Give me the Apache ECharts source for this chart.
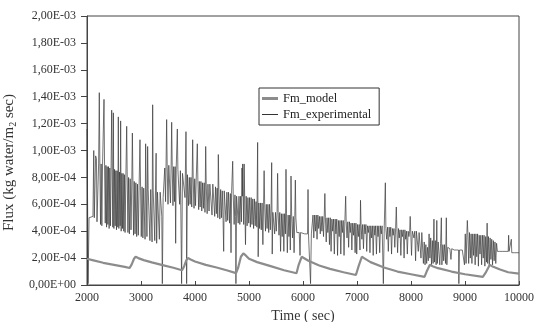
<!DOCTYPE html>
<html>
<head>
<meta charset="utf-8">
<script src="https://cdn.jsdelivr.net/npm/echarts@6/dist/echarts.min.js"></script>
<style>
html,body{margin:0;padding:0;background:#fff;}
#chart{width:534px;height:322px;}
</style>
</head>
<body>
<div id="chart"></div>
<script>
// Flux values are in units of 1e-4 kg water/(m2 sec)
var xTicks = [2000, 3000, 4000, 5000, 6000, 7000, 8000, 9000, 10000];
var yTicks = [0, 2, 4, 6, 8, 10, 12, 14, 16, 18, 20];

var modelPoints = [
[2000,1.95],[2100,1.85],[2300,1.65],[2500,1.5],[2700,1.35],[2790,1.26],[2830,1.55],[2870,1.95],[2900,2.1],[2950,2.0],
[3050,1.85],[3200,1.68],[3400,1.48],[3600,1.28],[3760,1.1],[3800,1.4],[3840,1.85],[3870,2.0],[3920,1.9],[4000,1.75],
[4200,1.5],[4400,1.3],[4600,1.08],[4760,0.88],[4800,1.3],[4850,2.1],[4895,2.35],[4940,2.2],[5000,1.95],[5150,1.7],
[5400,1.4],[5650,1.1],[5880,0.87],[5920,1.5],[5975,2.1],[6010,2.05],[6100,1.8],[6300,1.45],[6500,1.2],[6750,0.95],
[6980,0.74],[7030,1.4],[7090,2.1],[7130,2.0],[7250,1.7],[7500,1.3],[7750,1.0],[8000,0.8],[8250,0.6],[8290,1.0],
[8350,1.5],[8400,1.4],[8500,1.25],[8750,1.0],[9000,0.8],[9330,0.6],[9380,0.9],[9460,1.5],[9500,1.4],[9650,1.15],
[9800,0.95],[10000,0.85]
];

var experimentalPoints = [
[2000,11.6],[2012,5.5],[2020,0.1],[2030,0.1],[2038,5.0],[2110,5.1],[2125,10.0],[2135,5.0],[2160,9.6],[2175,9.4],[2185,4.7],[2200,4.6],
[2215,9.0],[2228,14.3],[2238,9.0],[2250,4.5],[2262,9.0],[2275,4.4],[2288,9.0],[2300,9.0],[2315,13.8],[2325,8.9],[2338,4.6],[2350,8.9],
[2362,4.3],[2374,8.8],[2386,4.5],[2398,8.8],[2410,4.2],[2422,8.7],[2434,4.4],[2446,8.7],[2457,13.0],[2467,8.6],[2478,4.3],[2488,12.8],
[2498,4.2],[2510,8.6],[2522,4.4],[2534,8.5],[2546,4.1],[2558,8.5],[2570,4.3],[2580,12.5],[2590,4.2],[2602,8.4],[2614,4.4],[2623,12.2],
[2633,4.0],[2645,8.3],[2657,4.2],[2669,8.3],[2681,4.0],[2693,8.2],
[2705,3.9],[2720,8.1],[2735,11.8],[2745,8.0],[2758,3.9],[2770,8.0],[2785,3.8],[2800,7.9],[2815,4.1],[2830,7.8],[2840,11.3],[2850,7.8],
[2862,3.7],[2875,7.7],[2890,3.8],[2905,7.6],[2920,3.6],[2935,7.5],[2950,3.7],[2965,7.4],[2981,10.8],[2992,7.3],
[3005,3.6],[3020,7.3],[3035,3.5],[3050,7.2],[3065,7.2],[3075,3.4],[3086,10.5],[3096,7.2],[3110,3.6],[3123,10.3],[3133,7.1],[3150,7.1],
[3165,3.3],[3180,7.1],[3195,7.1],[3205,3.2],[3216,13.4],[3226,7.0],[3245,7.0],[3255,3.3],[3268,7.0],[3280,9.8],[3290,3.1],[3305,6.9],
[3325,6.9],[3340,3.4],[3355,6.9],[3370,6.8],[3385,5.1],[3395,0.1],[3402,0.1],[3410,6.5],
[3425,6.6],[3440,8.7],[3455,6.2],[3475,12.3],[3485,8.8],[3500,6.0],[3515,8.9],[3530,8.9],[3545,6.1],[3558,8.9],[3568,12.1],[3578,8.9],
[3592,5.9],[3605,8.8],[3620,6.2],[3632,8.8],[3642,3.1],[3652,8.7],[3673,11.6],[3683,8.6],[3700,8.6],[3715,6.0],[3730,8.5],[3745,8.4],
[3752,0.1],[3760,0.1],[3768,8.3],[3800,8.3],[3815,6.5],[3833,11.4],[3840,8.2],[3845,0.1],[3852,0.1],[3860,8.2],
[3880,5.9],[3895,8.0],[3910,6.0],[3925,8.0],[3940,5.8],[3957,10.8],[3967,7.9],[3982,5.7],[3995,7.9],[4010,5.9],[4022,7.8],[4043,10.5],
[4053,7.8],[4068,5.6],[4080,7.7],[4095,5.8],[4110,7.7],[4125,5.5],[4140,7.6],[4155,5.7],[4170,7.6],[4185,5.4],[4198,10.3],[4208,7.5],
[4225,5.3],[4240,7.5],[4260,5.5],[4275,7.5],[4300,7.5],[4315,5.2],[4330,7.5],[4350,7.4],[4365,5.1],[4380,7.3],[4395,5.3],[4410,7.2],
[4422,5.0],[4432,9.7],[4442,7.1],[4460,4.9],[4475,7.1],[4490,5.0],[4505,7.0],[4520,4.8],[4531,2.5],[4541,7.0],[4560,7.0],[4575,4.7],
[4590,6.9],[4605,4.8],[4620,6.9],[4640,4.6],[4655,6.8],[4667,2.4],[4677,6.8],[4698,9.2],[4708,6.7],[4725,4.5],[4740,6.7],[4752,5.1],
[4758,0.1],[4764,0.1],[4770,6.6],
[4785,6.6],[4800,4.6],[4815,6.6],[4830,4.5],[4845,6.6],[4860,4.7],[4870,8.7],[4878,6.6],[4883,9.0],[4893,6.6],[4902,4.5],[4910,9.0],
[4920,6.6],[4935,3.0],[4948,6.6],[4965,4.4],[4980,6.5],[4995,4.6],[5010,6.5],[5025,4.3],[5040,6.5],[5055,4.5],[5070,6.4],[5085,4.2],
[5100,6.4],[5115,4.4],[5130,6.2],[5145,4.3],[5160,10.6],[5170,2.1],[5182,6.1],[5197,4.2],
[5212,6.1],[5227,4.1],[5242,6.1],[5257,3.0],[5270,6.1],[5280,8.5],[5290,6.0],[5305,4.0],[5320,6.0],[5335,4.2],[5350,6.0],[5365,3.9],
[5380,6.0],[5395,4.1],[5410,5.9],[5420,9.1],[5430,2.3],[5442,5.4],[5460,5.4],[5475,3.8],[5490,5.4],[5505,4.0],[5520,5.4],[5530,8.3],
[5540,5.4],[5555,3.7],[5570,5.4],[5585,2.5],[5600,5.3],[5615,3.6],[5630,5.3],[5645,2.5],[5660,5.3],[5675,3.8],[5685,8.6],[5695,5.3],
[5710,2.4],[5725,5.2],[5740,3.6],[5755,5.2],[5765,2.6],[5778,8.1],[5790,5.1],[5805,3.5],[5820,5.1],[5835,2.4],[5848,5.0],[5858,7.8],
[5868,5.0],[5885,3.9],[5930,3.9],[5945,2.2],[5955,3.9],[5990,3.9],[6030,3.8],[6060,3.8],[6085,3.8],[6093,7.1],[6101,3.8],[6130,3.8],
[6140,0.1],[6148,0.1],[6155,3.8],[6175,3.8],
[6185,5.2],[6200,3.5],[6215,5.2],[6230,4.0],[6245,5.2],[6260,3.4],[6275,5.2],[6290,4.2],[6305,5.1],[6320,3.8],[6335,5.1],[6350,4.0],
[6365,5.1],[6380,3.6],[6393,5.1],[6405,6.8],[6415,5.0],[6430,3.2],[6445,5.0],[6460,3.9],[6475,5.0],[6490,3.0],[6505,5.0],[6520,2.5],
[6535,4.9],[6550,4.0],[6565,4.9],[6580,2.3],[6595,4.9],[6610,3.8],[6625,4.9],[6640,2.2],[6655,4.8],[6670,3.6],[6685,4.8],[6700,2.3],
[6715,4.8],[6730,3.9],[6745,4.8],[6760,2.2],[6775,4.7],[6790,6.6],[6800,4.7],[6815,3.5],[6830,4.7],[6845,2.8],[6860,4.7],[6875,3.9],
[6890,4.6],[6905,2.6],[6920,4.6],[6935,3.7],[6950,4.6],[6965,2.4],[6980,4.6],[6995,2.3],[7010,4.5],[7025,3.6],[7040,4.5],[7055,2.6],
[7065,6.3],[7075,4.5],
[7090,3.4],[7105,4.5],[7120,2.7],[7135,4.5],[7150,3.8],[7165,4.5],[7180,2.5],[7195,4.4],[7210,3.9],[7225,4.4],[7240,2.4],[7255,4.4],
[7270,3.5],[7285,4.4],[7300,2.2],[7315,4.4],[7330,3.7],[7345,4.4],[7360,2.3],[7375,4.4],[7390,3.6],[7405,4.4],[7420,2.4],[7435,4.4],
[7450,3.8],[7465,4.4],[7480,4.4],[7488,0.1],[7495,0.1],[7505,4.4],[7525,7.6],[7535,4.2],
[7550,3.4],[7565,4.3],[7580,2.5],[7595,4.3],[7610,3.6],[7625,4.3],[7640,2.3],[7655,4.2],[7670,3.7],[7685,4.2],[7700,2.8],[7715,4.2],
[7728,5.8],[7738,4.2],[7752,2.4],[7767,4.2],[7782,3.5],[7797,4.1],[7812,2.2],[7827,4.1],[7842,3.6],[7857,4.1],[7872,2.0],[7887,4.1],
[7902,3.4],[7917,4.0],[7932,2.3],[7947,4.0],[7962,3.6],[7975,4.0],[7985,5.1],[7995,4.0],[8010,2.2],[8025,4.0],[8040,4.0],[8055,3.5],
[8070,4.0],[8085,1.8],[8100,4.0],[8120,4.0],[8135,2.5],[8150,3.9],[8170,3.9],[8185,2.0],[8200,3.9],[8215,3.9],[8230,1.6],[8245,3.2],
[8260,1.5],[8275,3.0],[8290,1.6],[8305,2.8],[8320,1.8],[8335,3.8],[8350,2.0],[8365,3.5],[8380,1.5],[8395,3.3],[8410,1.6],[8425,4.9],
[8435,1.7],[8450,3.3],[8465,1.5],[8478,4.8],[8488,1.6],[8503,3.2],[8518,3.2],[8533,1.5],[8548,3.1],[8562,5.0],[8572,1.5],[8590,3.0],
[8605,1.8],[8620,3.0],[8640,1.6],[8654,5.0],[8664,1.5],[8680,2.8],[8700,2.7],[8720,2.7],[8740,1.9],[8755,2.7],[8780,2.7],[8800,2.6],
[8820,2.6],[8840,2.6],[8860,2.6],[8880,2.6],[8886,0.1],[8892,0.1],[8898,2.6],[8920,2.6],[8950,2.6],[8975,2.6],[8990,1.5],[9005,3.8],
[9020,1.6],[9035,3.9],[9043,4.8],[9053,3.9],[9068,1.6],[9083,3.9],[9098,2.0],[9113,3.8],[9128,1.6],[9143,3.8],[9158,2.2],[9173,3.8],
[9188,1.5],[9203,3.8],[9218,2.1],[9233,3.8],[9248,1.4],[9263,3.7],[9278,2.3],[9293,3.7],[9308,1.5],[9323,3.7],[9338,2.0],[9353,3.7],
[9368,1.4],[9383,3.6],[9398,1.7],[9410,4.6],[9420,1.6],[9435,3.6],[9450,1.4],[9465,3.5],[9480,1.9],[9495,3.4],[9510,1.5],[9525,3.3],
[9540,1.8],[9555,3.2],[9570,1.6],[9585,3.1],[9600,2.5],[9640,2.5],[9700,2.5],[9760,2.5],[9800,2.5],[9808,3.7],[9816,2.5],[9850,2.5],
[9858,3.4],[9866,2.4],[9920,2.4],[10000,2.4]
];

function sciLabel(v) {
  var s = (v * 1e-4).toExponential(2);
  var parts = s.split('e');
  var m = parts[0].replace('.', ',');
  var e = parseInt(parts[1], 10);
  var ea = Math.abs(e);
  return m + 'E' + (e < 0 ? '-' : '+') + (ea < 10 ? '0' : '') + ea;
}

var chart = echarts.init(document.getElementById('chart'), null, {renderer: 'canvas'});
var serif = 'Liberation Serif';
chart.setOption({
  animation: false,
  backgroundColor: '#fff',
  grid: {left: 87, right: 15, top: 16, bottom: 37, show: true, borderColor: '#444', borderWidth: 1,
         backgroundColor: 'transparent', containLabel: false, outerBoundsMode: 'none'},
  legend: {
    orient: 'vertical', left: 259, top: 88,
    itemWidth: 16, itemHeight: 8, itemGap: 3,
    padding: [4, 8, 4, 3],
    borderColor: '#333', borderWidth: 1, backgroundColor: '#fff',
    textStyle: {fontFamily: serif, fontSize: 12.5, color: '#222'},
    data: [
      {name: 'Fm_model', icon: 'path://M0,0H16V3H0Z', itemStyle: {color: '#8c8c8c'}},
      {name: 'Fm_experimental', icon: 'path://M0,0H16V1H0Z', itemStyle: {color: '#333'}}
    ]
  },
  xAxis: {
    type: 'value', min: xTicks[0], max: xTicks[xTicks.length - 1], interval: 1000,
    name: 'Time ( sec)', nameLocation: 'middle', nameGap: 23,
    nameTextStyle: {fontFamily: serif, fontSize: 14, color: '#333'},
    axisLine: {show: true, lineStyle: {color: '#444', width: 1}},
    axisTick: {show: true, inside: true, length: 4, lineStyle: {color: '#444'}},
    axisLabel: {fontFamily: serif, fontSize: 12, color: '#333', margin: 7, formatter: function (v) { return String(v); }},
    splitLine: {show: false}
  },
  yAxis: {
    type: 'value', min: yTicks[0], max: yTicks[yTicks.length - 1], interval: 2,
    name: '{n|Flux (kg water/m}{s|2}{n| sec)}', nameLocation: 'middle', nameGap: 66,
    nameTextStyle: {
      fontFamily: serif, fontSize: 15, color: '#333', padding: [0, 24, 0, 0],
      rich: {
        n: {fontFamily: serif, fontSize: 15, color: '#333'},
        s: {fontFamily: serif, fontSize: 10, color: '#333', verticalAlign: 'bottom', padding: [8, 0, 0, 0]}
      }
    },
    axisLine: {show: true, lineStyle: {color: '#444', width: 1}},
    axisTick: {show: true, inside: false, length: 6, lineStyle: {color: '#444'}},
    axisLabel: {fontFamily: serif, fontSize: 12, color: '#333', margin: 11, formatter: sciLabel},
    splitLine: {show: false}
  },
  series: [
    {
      name: 'Fm_experimental', type: 'line', data: experimentalPoints,
      symbol: 'none', showSymbol: false, z: 2,
      lineStyle: {color: '#3a3a3a', width: 0.7},
      itemStyle: {color: '#333'}
    },
    {
      name: 'Fm_model', type: 'line', data: modelPoints,
      symbol: 'none', showSymbol: false, z: 3,
      lineStyle: {color: '#8c8c8c', width: 2.2},
      itemStyle: {color: '#8c8c8c'}
    }
  ]
});
</script>
</body>
</html>
